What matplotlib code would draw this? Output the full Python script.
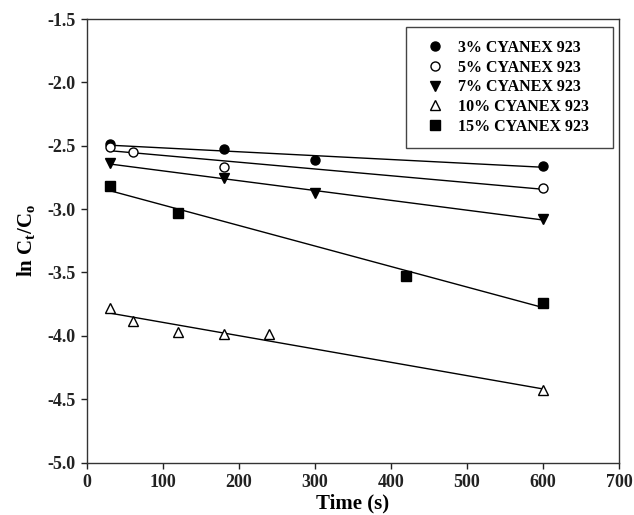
import numpy as np
import matplotlib
matplotlib.use("Agg")
import matplotlib.pyplot as plt
from matplotlib.patches import Rectangle

plt.rcParams['font.family'] = ['Liberation Serif', 'DejaVu Serif']
plt.rcParams['font.weight'] = 'bold'
plt.rcParams['mathtext.fontset'] = 'custom'
plt.rcParams['mathtext.rm'] = 'Liberation Serif:bold'
plt.rcParams['mathtext.bf'] = 'Liberation Serif:bold'
plt.rcParams['mathtext.it'] = 'Liberation Serif:bold'
plt.rcParams['mathtext.default'] = 'bf'

labels = ["3% CYANEX 923", "5% CYANEX 923", "7% CYANEX 923", "10% CYANEX 923", "15% CYANEX 923"]

t_3 = [30, 180, 300, 600]
y_3 = [-2.49, -2.525, -2.613, -2.658]
t_5 = [30, 60, 180, 600]
y_5 = [-2.51, -2.547, -2.67, -2.831]
t_7 = [30, 180, 300, 600]
y_7 = [-2.64, -2.755, -2.87, -3.08]
t_10 = [30, 60, 120, 180, 240, 600]
y_10 = [-3.778, -3.881, -3.968, -3.989, -3.984, -4.428]
t_15 = [30, 120, 420, 600]
y_15 = [-2.818, -3.028, -3.528, -3.744]

series = [
    (t_3, y_3, dict(marker='o', mfc='black', mec='black')),
    (t_5, y_5, dict(marker='o', mfc='white', mec='black')),
    (t_7, y_7, dict(marker='v', mfc='black', mec='black')),
    (t_10, y_10, dict(marker='^', mfc='white', mec='black')),
    (t_15, y_15, dict(marker='s', mfc='black', mec='black')),
]

W, H = 634, 515
fig = plt.figure(figsize=(W/100, H/100), dpi=100)
ax = fig.add_axes([87/W, 1 - 462.5/H, (619-87)/W, (462.5-19)/H])

for (t, y, st), lab in zip(series, labels):
    t = np.array(t, float); y = np.array(y, float)
    k, b = np.polyfit(t, y, 1)
    xs = np.array([t.min(), t.max()])
    ax.plot(xs, k*xs + b, color='black', lw=1.0, zorder=2)
    ms = 6.5 if st['marker'] in ('o', 's') else 7
    ax.plot(t, y, linestyle='none', ms=ms, mew=1.0, label=lab, zorder=3, **st)

ax.set_xlim(0, 700)
ax.set_ylim(-5.0, -1.5)
ax.set_xticks(np.arange(0, 701, 100))
yt = np.arange(-5.0, -1.49, 0.5)
ax.set_yticks(yt)
ax.set_yticklabels([f"{v:.1f}" for v in yt])
ax.tick_params(direction='out', length=4, width=1, labelsize=13, colors='#222222',
               top=False, right=False, pad=4)
for lab in ax.get_xticklabels() + ax.get_yticklabels():
    lab.set_fontweight('bold')
for s in ax.spines.values():
    s.set_linewidth(1.0)
    s.set_color('#333333')

ax.set_xlabel("Time (s)", fontsize=15, fontweight='bold', labelpad=2)
ax.set_ylabel("ln C$_t$/C$_o$", fontsize=15, fontweight='bold', labelpad=8)

# legend frame
frame = Rectangle((406/W, 1 - 148/H), (613-406)/W, (148-27)/H,
                  transform=fig.transFigure, facecolor='white',
                  edgecolor='#444444', lw=1.0, zorder=5, clip_on=False)
ax.add_patch(frame)
leg = ax.legend(loc='upper left', bbox_to_anchor=(427/W, 1 - 40/H), bbox_transform=fig.transFigure,
                prop={'size': 11.5, 'weight': 'bold'}, frameon=False,
                borderpad=0, labelspacing=0.23, handletextpad=0.94, handlelength=1.0,
                borderaxespad=0)
leg.set_zorder(6)

fig.savefig("out.png", dpi=100)
